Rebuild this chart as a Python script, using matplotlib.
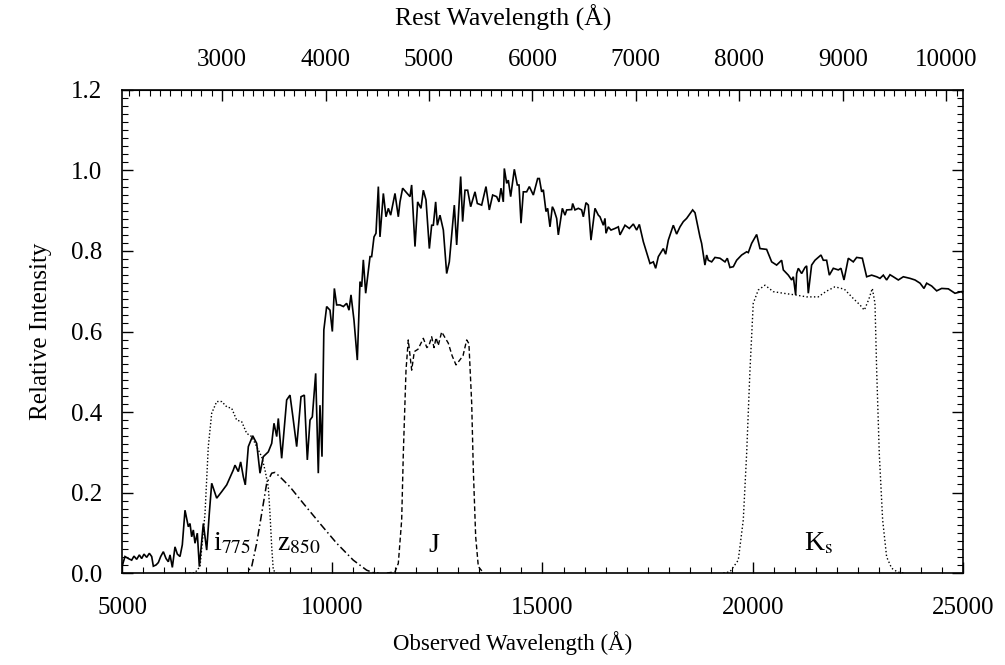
import numpy as np
import matplotlib
matplotlib.use('Agg')
import matplotlib.pyplot as plt
from matplotlib.ticker import MultipleLocator, FixedLocator

plt.rcParams['font.family'] = 'Liberation Serif'
plt.rcParams['mathtext.fontset'] = 'stix'

# redshift factor (1+z) linking observed and rest wavelength axes
one_plus_z = 2.46

# galaxy spectrum: observed wavelength (A) and relative intensity
spec_wave = [5000, 5071, 5150, 5230, 5285, 5349, 5412, 5468, 5523, 5587, 5650, 5706, 5745, 5809,
             5864, 5920, 5983, 6047, 6102, 6142, 6197, 6260, 6316, 6379, 6434, 6498, 6577, 6617,
             6657, 6696, 6736, 6791, 6839, 6934, 7014, 7076, 7133, 7252, 7370, 7490, 7647, 7687,
             7766, 7822, 7885, 7932, 8004, 8108, 8203, 8282, 8360, 8479, 8560, 8615, 8679, 8717,
             8797, 8916, 8995, 9059, 9154, 9257, 9336, 9407, 9471, 9526, 9606, 9668, 9708, 9756,
             9800, 9867, 9946, 10002, 10050, 10105, 10184, 10264, 10343, 10398, 10446, 10517,
             10596, 10660, 10700, 10739, 10795, 10898, 10937, 10993, 11040, 11096, 11135, 11215,
             11278, 11334, 11389, 11492, 11571, 11611, 11674, 11849, 11888, 11968, 12031, 12110,
             12166, 12229, 12309, 12364, 12404, 12459, 12499, 12562, 12642, 12721, 12784, 12903,
             12959, 13054, 13101, 13157, 13220, 13292, 13395, 13450, 13553, 13656, 13735, 13815,
             13910, 13965, 14013, 14068, 14092, 14148, 14187, 14243, 14330, 14401, 14441, 14489,
             14544, 14623, 14687, 14782, 14885, 14925, 14980, 15020, 15083, 15123, 15178, 15234,
             15273, 15337, 15376, 15472, 15535, 15575, 15693, 15717, 15773, 15852, 15931, 15971,
             16034, 16090, 16153, 16248, 16328, 16367, 16447, 16486, 16510, 16565, 16629, 16724,
             16803, 16843, 16962, 17065, 17160, 17239, 17303, 17398, 17556, 17636, 17691, 17755,
             17873, 17929, 17992, 18111, 18190, 18270, 18349, 18428, 18571, 18627, 18745, 18784,
             18863, 18904, 18943, 19023, 19102, 19221, 19340, 19395, 19458, 19538, 19617, 19736,
             19855, 19894, 19974, 20093, 20172, 20330, 20450, 20568, 20687, 20727, 20846, 20925,
             20965, 21020, 21044, 21084, 21163, 21242, 21282, 21321, 21400, 21480, 21623, 21678,
             21757, 21821, 21916, 22035, 22098, 22170, 22273, 22391, 22471, 22606, 22709, 22828,
             22947, 23026, 23105, 23184, 23264, 23343, 23462, 23581, 23740, 23859, 23979, 24072,
             24136, 24255, 24374, 24493, 24651, 24809, 24968, 25000]
spec_flux = [0.016, 0.041, 0.036, 0.032, 0.042, 0.034, 0.045, 0.036, 0.047, 0.039, 0.049, 0.041, 0.017, 0.020,
             0.026, 0.041, 0.053, 0.036, 0.028, 0.045, 0.014, 0.065, 0.047, 0.041, 0.070, 0.156, 0.115, 0.123,
             0.090, 0.107, 0.074, 0.099, 0.016, 0.123, 0.057, 0.148, 0.223, 0.186, 0.202, 0.219, 0.256, 0.268,
             0.252, 0.276, 0.239, 0.219, 0.314, 0.341, 0.322, 0.248, 0.289, 0.301, 0.322, 0.372, 0.339, 0.384,
             0.285, 0.430, 0.442, 0.392, 0.314, 0.438, 0.442, 0.281, 0.380, 0.388, 0.496, 0.248, 0.417, 0.289,
             0.604, 0.662, 0.653, 0.600, 0.707, 0.666, 0.666, 0.662, 0.670, 0.653, 0.691, 0.628,
             0.529, 0.724, 0.711, 0.778, 0.695, 0.786, 0.786, 0.835, 0.844, 0.960, 0.835, 0.943,
             0.885, 0.906, 0.889, 0.943, 0.885, 0.922, 0.956, 0.935, 0.964, 0.811, 0.922, 0.906,
             0.951, 0.927, 0.806, 0.864, 0.864, 0.922, 0.864, 0.889, 0.852, 0.744, 0.773, 0.914,
             0.815, 0.985, 0.873, 0.951, 0.951, 0.910, 0.947, 0.918, 0.914, 0.960, 0.902, 0.939,
             0.935, 0.922, 0.956, 0.922, 1.005, 0.968, 0.976, 0.935, 1.003, 0.964, 0.964, 0.869,
             0.947, 0.947, 0.960, 0.939, 0.980, 0.980, 0.947, 0.952, 0.898, 0.906, 0.860, 0.910,
             0.902, 0.881, 0.840, 0.906, 0.889, 0.902, 0.903, 0.918, 0.902, 0.906, 0.902, 0.885,
             0.920, 0.914, 0.827, 0.906, 0.889, 0.885, 0.864, 0.881, 0.844, 0.860, 0.852, 0.856,
             0.860, 0.840, 0.864, 0.856, 0.867, 0.852, 0.866, 0.823, 0.769, 0.773, 0.757, 0.786,
             0.806, 0.792, 0.827, 0.864, 0.842, 0.860, 0.873, 0.881, 0.902, 0.895, 0.835, 0.819,
             0.765, 0.790, 0.777, 0.773, 0.784, 0.782, 0.773, 0.782, 0.759, 0.761, 0.777, 0.790,
             0.798, 0.796, 0.819, 0.841, 0.806, 0.804, 0.773, 0.765, 0.777, 0.753, 0.740, 0.728,
             0.736, 0.691, 0.744, 0.757, 0.744, 0.759, 0.763, 0.695, 0.765, 0.777, 0.790, 0.777,
             0.777, 0.740, 0.757, 0.753, 0.757, 0.728, 0.782, 0.773, 0.784, 0.782, 0.736, 0.740,
             0.736, 0.732, 0.740, 0.728, 0.741, 0.736, 0.728, 0.736, 0.732, 0.728, 0.720, 0.707,
             0.720, 0.713, 0.701, 0.707, 0.706, 0.695, 0.699, 0.695]

# filter transmission curves
i775_wave = [6600, 6736, 6855, 6974, 7052, 7133, 7252, 7371, 7490, 7609, 7727, 7846, 7965, 8084,
             8203, 8322, 8400, 8479, 8519, 8560, 8598, 8680]
i775_trans = [0.0, 0.001, 0.016, 0.148, 0.314, 0.397, 0.426, 0.426, 0.413, 0.409, 0.380, 0.376, 0.347, 0.339,
              0.314, 0.289, 0.256, 0.214, 0.148, 0.065, 0.007, 0.0]

z850_wave = [7800, 7965, 8084, 8203, 8322, 8441, 8560, 8638, 8757, 8995, 9312, 9708, 10105, 10500,
             10819, 10976, 11100]
z850_trans = [0.0, 0.0, 0.016, 0.074, 0.148, 0.223, 0.248, 0.250, 0.239, 0.214, 0.173, 0.123, 0.074, 0.032,
              0.007, 0.001, 0.0]

j_wave = [11300, 11492, 11571, 11651, 11690, 11754, 11808, 11889, 11951, 12040, 12166, 12250, 12300,
          12364, 12420, 12470, 12520, 12602, 12680, 12760, 12850, 12943, 13040, 13110, 13197, 13250,
          13316, 13355, 13411, 13474, 13600]
j_trans = [0.0, 0.003, 0.024, 0.132, 0.297, 0.504, 0.579, 0.504, 0.550, 0.556, 0.583, 0.560, 0.565,
           0.587, 0.560, 0.585, 0.565, 0.599, 0.585, 0.571, 0.540, 0.517, 0.530, 0.540, 0.579, 0.570,
           0.422, 0.256, 0.090, 0.016, 0.0]

ks_wave = [19300, 19458, 19656, 19775, 19855, 19934, 20012, 20131, 20291, 20489, 20727, 21004, 21283,
           21558, 21750, 21955, 22180, 22391, 22550, 22653, 22760, 22843, 22907, 22947, 23009, 23089,
           23184, 23303, 23450, 23600]
ks_trans = [0.0, 0.003, 0.032, 0.132, 0.297, 0.504, 0.670, 0.703, 0.715, 0.699, 0.695, 0.691, 0.686,
            0.686, 0.700, 0.711, 0.705, 0.682, 0.666, 0.653, 0.680, 0.707, 0.670, 0.504, 0.297, 0.132,
            0.040, 0.012, 0.002, 0.0]

# rest-frame tick values on the top axis
rest_ticks = [3000, 4000, 5000, 6000, 7000, 8000, 9000, 10000]

fig = plt.figure(figsize=(10.05, 6.65), dpi=100)
ax = fig.add_axes([0.1214, 0.1383, 0.8368, 0.7264])

ax.plot(spec_wave, spec_flux, color='black', lw=1.2, solid_joinstyle='miter')
ax.plot(i775_wave, i775_trans, color='black', lw=1.0, linestyle=(0, (1, 1.5)))
ax.plot(z850_wave, z850_trans, color='black', lw=1.1, linestyle=(0, (5, 2, 1, 2)))
ax.plot(j_wave, j_trans, color='black', lw=1.0, linestyle=(0, (3.5, 2)))
ax.plot(ks_wave, ks_trans, color='black', lw=1.0, linestyle=(0, (1, 1.7)))

# filter names
ax.text(7160, 0.057, r'i$_{775}$', fontsize=20, ha='left', va='baseline')
ax.text(8680, 0.057, r'z$_{850}$', fontsize=20, ha='left', va='baseline')
ax.text(12420, 0.052, 'J', fontsize=20, ha='center', va='baseline')
ax.text(21220, 0.057, r'K$_{\rm s}$', fontsize=20, ha='left', va='baseline')

ax.set_xlim(5000, 25000)
ax.set_ylim(0, 1.2)
ax.xaxis.set_major_locator(MultipleLocator(5000))
ax.xaxis.set_minor_locator(MultipleLocator(500))
ax.yaxis.set_major_locator(MultipleLocator(0.2))
ax.yaxis.set_minor_locator(MultipleLocator(0.02))
ax.yaxis.set_major_formatter(plt.FormatStrFormatter('%.1f'))
ax.tick_params(which='both', direction='in', top=False, right=True, labelsize=18, pad=14)
ax.tick_params(axis='x', pad=17)
ax.tick_params(which='major', length=8, width=1)
ax.tick_params(which='minor', length=4, width=0.8)
for s in ax.spines.values():
    s.set_linewidth(1.2)

ax.set_xlabel('Observed Wavelength (Å)', fontsize=16.5)
ax.xaxis.set_label_coords(0.465, -0.12)
ax.set_ylabel('Relative Intensity', fontsize=18, labelpad=14)

# rest-frame wavelength on top
top = ax.secondary_xaxis('top', functions=(lambda x: x / one_plus_z, lambda x: x * one_plus_z))
top.xaxis.set_major_locator(FixedLocator(rest_ticks))
top.xaxis.set_minor_locator(FixedLocator(np.arange(2100, 10200, 100)))
top.tick_params(which='both', direction='in', labelsize=18, pad=14)
top.tick_params(which='major', length=8, width=1)
top.tick_params(which='minor', length=4, width=0.8)
ax.text(0.453, 1.149, 'Rest Wavelength (Å)', fontsize=18.5, ha='center', va='center',
        transform=ax.transAxes)

fig.savefig('out.png', dpi=100)
